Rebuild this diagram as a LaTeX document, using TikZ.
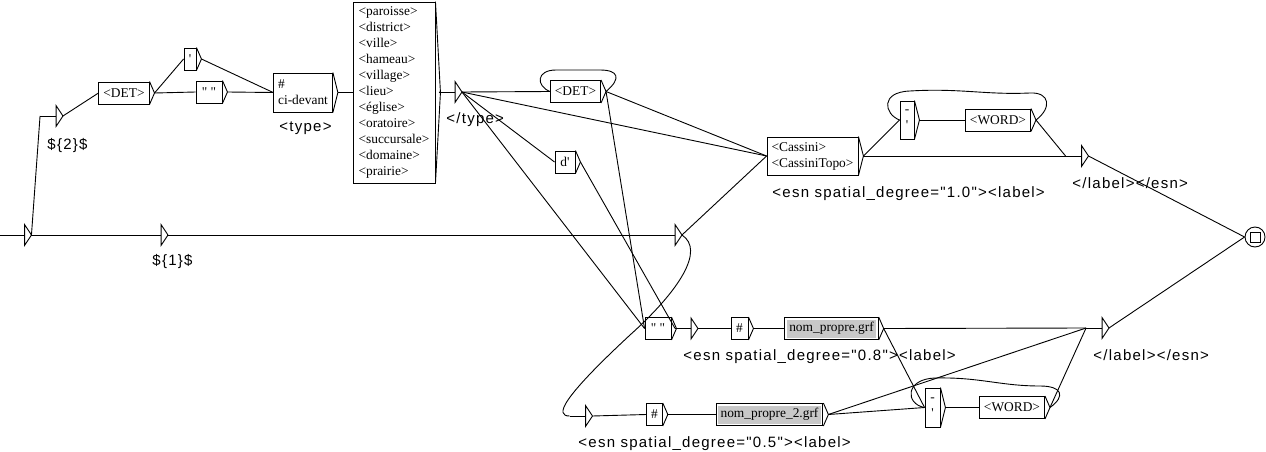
\documentclass[tikz,border=0pt]{standalone}
\usepackage{fontspec}
\setmainfont{Liberation Serif}[Ligatures=TeXOff]
\newfontfamily\outfont[LetterSpace=8.3]{Liberation Sans}
\definecolor{boxgray}{RGB}{200,200,200}

\begin{document}
\begin{tikzpicture}[x=1pt, y=-1pt, line width=0.9pt] %y runs downwards, 1 unit = 1 pixel
\tikzstyle{box} = [draw, fill=white, inner xsep=4.5pt, inner ysep=0pt, minimum height=22pt, align=left, font=\fontsize{13.4}{16}\selectfont]
\tikzstyle{grfbox} = [box, path picture={\fill[boxgray] ([shift={(2pt,-2pt)}]path picture bounding box.north west) rectangle ([shift={(-2pt,2pt)}]path picture bounding box.south east);}]
\tikzstyle{eps} = [minimum width=6pt, minimum height=20pt, inner sep=0pt]
\tikzstyle{outtext} = [anchor=base west, inner sep=0pt, font=\outfont\fontsize{15}{16}\selectfont]
\useasboundingbox (0,0) rectangle (1266,452);

% boxes
\node[box] (det1) at (124,93) {<DET>};
\node[box, minimum width=12pt] (apos) at (190,59) {'};
\node[box, minimum width=26pt] (quot1) at (209,92) {" "};
\node[box, minimum height=39pt] (cidev) at (303,92.5) {\#\\ci-devant};
\node[box, minimum width=82pt, minimum height=181pt] (types) at (394,92.5) {<paroisse>\\<district>\\<ville>\\<hameau>\\<village>\\<lieu>\\<église>\\<oratoire>\\<succursale>\\<domaine>\\<prairie>};
\node[box] (det2) at (575.5,91.5) {<DET>};
\node[box, minimum width=20pt] (dap) at (565,162) {d'};
\node[box, minimum height=38pt] (cass) at (812.5,156) {<Cassini>\\<CassiniTopo>};
\node[box, minimum width=14pt, minimum height=38pt, align=center] (hyph1) at (907,120) {-\\'};
\node[box] (word1) at (998,120) {<WORD>};
\node[box, minimum width=26pt] (quot2) at (658,328.5) {" "};
\node[box, minimum width=17pt] (hash1) at (739.5,328.5) {\#};
\node[grfbox] (np1) at (831.5,328.5) {nom\_propre.grf};
\node[box, minimum width=15pt, minimum height=39pt, align=center] (hyph2) at (932.5,407.5) {-\\'};
\node[box] (word2) at (1012,407.5) {<WORD>};
\node[box, minimum width=15pt] (hash2) at (654.5,414.5) {\#};
\node[grfbox] (np2) at (769.5,414.5) {nom\_propre\_2.grf};

% empty boxes with outputs
\node[eps] (init) at (28,235) {};
\node[eps] (t2) at (59.5,116) {};
\node[eps] (t1) at (164.5,235) {};
\node[eps] (ttype) at (458.5,92) {};
\node[eps] (tmid) at (678.5,235) {};
\node[eps] (tend1) at (1085,156) {};
\node[eps] (t08) at (694.5,328.5) {};
\node[eps] (tend2) at (1105.5,328) {};
\node[eps] (t05) at (589,416) {};
\node[draw, circle, minimum size=20pt, inner sep=0pt] (fin) at (1255,237) {};
\draw ([shift={(-5pt,-5pt)}]fin.center) rectangle ([shift={(5pt,5pt)}]fin.center);
\coordinate (fin-i) at (fin.west);
\coordinate (start) at (0,235);

\node[outtext] (o2) at (47,149) {\$\{2\}\$};
\node[outtext] (o1) at (152,265) {\$\{1\}\$};
\node[outtext] (otype) at (279,131) {<type>};
\node[outtext] (oetype) at (446,123) {</type>};
\node[outtext] (o10) at (772,197) {<esn spatial\_degree="1.0"><label>};
\node[outtext] (oend1) at (1072,188) {</label></esn>};
\node[outtext] (o08) at (683,360) {<esn spatial\_degree="0.8"><label>};
\node[outtext] (oend2) at (1093,360) {</label></esn>};
\node[outtext] (o05) at (578,447) {<esn spatial\_degree="0.5"><label>};

\foreach \n in {det1,apos,quot1,cidev,types,det2,dap,cass,hyph1,word1,quot2,hash1,np1,hyph2,word2,hash2,np2} {
  \coordinate (\n-i) at (\n.west);
  \coordinate (\n-o) at ([xshift=5pt]\n.east);
  \draw (\n.north east) -- (\n-o) -- (\n.south east);
}
\foreach \n in {t2,t1,ttype,tmid,tend1,t08,tend2,t05} {
  \coordinate (\n-i) at ([xshift=-16pt]\n.west);
  \coordinate (\n-o) at (\n.east);
  \draw (\n.north west) -- (\n.east) -- (\n.south west) -- cycle;
  \draw (\n-i) -- (\n.west);
}
\draw (init.north west) -- (init.east) -- (init.south west) -- cycle;
\coordinate (init-o) at (init.east);
\draw (start) -- (init.west);

\foreach \from/\to in {init/t2, init/t1, t2/det1, det1/apos, det1/quot1, apos/cidev, quot1/cidev, cidev/types, types/ttype,
  ttype/det2, ttype/cass, ttype/dap, ttype/quot2, det2/cass, det2/quot2, dap/t08, quot2/t08, t1/tmid, tmid/cass,
  cass/hyph1, cass/tend1, hyph1/word1, word1/tend1, tend1/fin, t08/hash1, hash1/np1, np1/tend2, np1/hyph2,
  t05/hash2, hash2/np2, np2/hyph2, np2/tend2, hyph2/word2, word2/tend2, tend2/fin}
\draw (\from-o) -- (\to-i);

% loops and the way back
\draw (det2-o) .. controls (622,78) and (618,70) .. (600,70) -- (556,70) .. controls (536,70) and (536,86) .. (det2-i);
\draw (word1-o) .. controls (1052,108) and (1050,92) .. (1030,93) .. controls (985,95) and (960,88) .. (910,91) .. controls (880,92) and (884,114) .. (hyph1-i);
\draw (word2-o) .. controls (1066,396) and (1062,386) .. (1040,386) .. controls (1000,386) and (980,377) .. (935,378) .. controls (905,379) and (905,404) .. (hyph2-i);
\draw (tmid-o) .. controls (705,250) and (680,290) .. (630,335) .. controls (560,400) and (555,416) .. (t05-i);
\end{tikzpicture}
\end{document}
